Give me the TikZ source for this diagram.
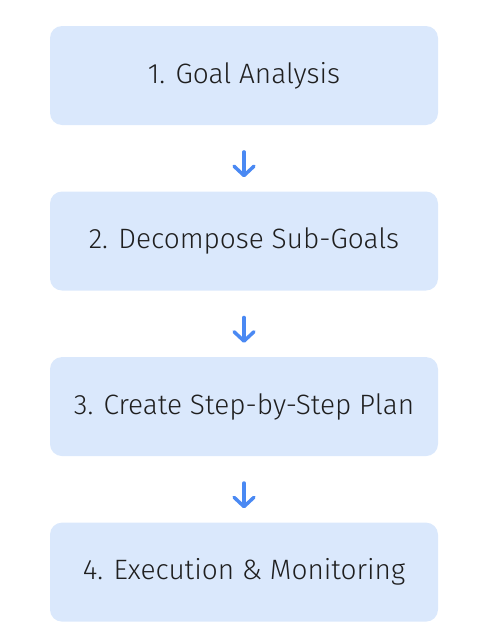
\documentclass[tikz,border=0pt]{standalone}
\usepackage{fontspec}
\setmainfont{Fira Sans}[UprightFont={* Light}]
\usepackage{xcolor}
\definecolor{paleblue}{HTML}{DAE8FC}
\definecolor{arrowblue}{HTML}{4A89F3}
\definecolor{inkgrey}{HTML}{1F1F1F}
\usetikzlibrary{arrows.meta, positioning}

\tikzset{
  stagebox/.style={fill=paleblue, rounded corners=9pt, minimum width=291pt,
    minimum height=74.25pt, inner sep=0pt, text=inkgrey,
    font=\fontsize{21}{25}\selectfont},
  flow/.style={draw=arrowblue, line width=2.6pt, line cap=round,
    -{Straight Barb[length=7pt, width=15pt, round]},
    shorten <=20pt, shorten >=10.5pt}
}

\begin{document}
\begin{tikzpicture}[x=0.75pt, y=-0.75pt]
  \useasboundingbox (0,0) rectangle (484,632);

  % --- the four stages ---
  \node[stagebox] (goal) at (244,75.5) {1. Goal Analysis};
  \node[stagebox, below=49.5pt of goal] (decomp) {2. Decompose Sub-Goals};
  \node[stagebox, below=49.5pt of decomp] (plan) {3. Create Step-by-Step Plan};
  \node[stagebox, below=49.5pt of plan] (exec) {4. Execution \& Monitoring};

  % --- arrows between stages ---
  \draw[flow] (goal) -- (decomp);
  \draw[flow] (decomp) -- (plan);
  \draw[flow] (plan) -- (exec);
\end{tikzpicture}
\end{document}
